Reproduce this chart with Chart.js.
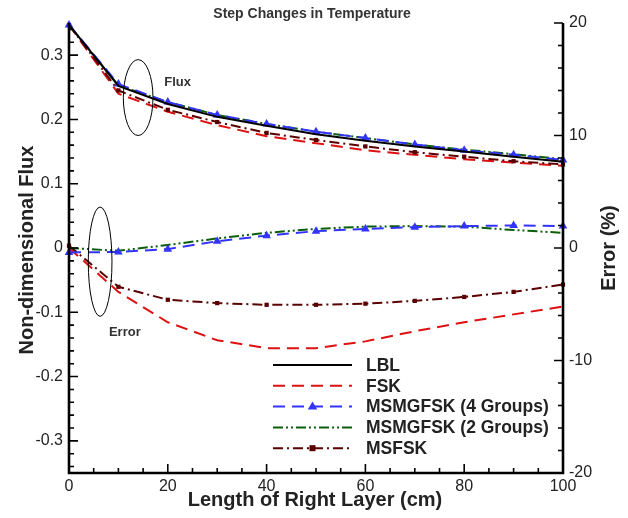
<!DOCTYPE html>
<html>
<head>
<meta charset="utf-8">
<script src="https://cdn.jsdelivr.net/npm/chart.js@4.4.1/dist/chart.umd.min.js"></script>
<style>
  html, body { margin: 0; padding: 0; background: #fff; }
  #wrap { width: 628px; height: 518px; position: relative; }
</style>
</head>
<body>
<div id="wrap"><canvas id="c" width="628" height="518"></canvas></div>
<script>
// ---------- data ----------
const lengths = [0, 10, 20, 30, 40, 50, 60, 70, 80, 90, 100];

const fluxLBL     = [0.347, 0.252, 0.224, 0.204, 0.190, 0.177, 0.167, 0.158, 0.150, 0.142, 0.134];
const fluxFSK     = [0.347, 0.240, 0.212, 0.191, 0.174, 0.163, 0.152, 0.145, 0.138, 0.133, 0.128];
const fluxMSMG4   = [0.347, 0.255, 0.227, 0.207, 0.193, 0.181, 0.171, 0.161, 0.152, 0.145, 0.137];
const fluxMSMG2   = [0.347, 0.253, 0.227, 0.207, 0.193, 0.181, 0.171, 0.161, 0.153, 0.146, 0.138];
const fluxMSFSK   = [0.347, 0.245, 0.215, 0.196, 0.179, 0.168, 0.158, 0.149, 0.142, 0.135, 0.130];

const errFSK      = [0.0, -3.9, -6.6, -8.2, -8.9, -8.9, -8.3, -7.4, -6.6, -5.9, -5.2];
const errMSMG4    = [-0.4, -0.35, -0.1, 0.6, 1.1, 1.5, 1.7, 1.85, 1.95, 2.0, 1.95];
const errMSMG2    = [0.0, -0.25, 0.27, 0.85, 1.35, 1.7, 1.9, 1.95, 1.9, 1.6, 1.35];
const errMSFSK    = [0.2, -3.45, -4.6, -4.9, -5.05, -5.05, -4.95, -4.7, -4.35, -3.9, -3.25];

const seriesNames = ["LBL", "FSK", "MSMGFSK (4 Groups)", "MSMGFSK (2 Groups)", "MSFSK"];

const xTicks     = [0, 20, 40, 60, 80, 100];
const fluxTicks  = [-0.3, -0.2, -0.1, 0, 0.1, 0.2, 0.3];
const errorTicks = [-20, -10, 0, 10, 20];

const chartTitle = "Step Changes in Temperature";
const xTitle = "Length of Right Layer (cm)";
const yTitle = "Non-dimensional Flux";
const y2Title = "Error (%)";

// ---------- styles ----------
const FONT = '"Liberation Sans", Arial, Helvetica, sans-serif';
const styles = [
  { color: "#000000", dash: [],                  point: false,      radius: 0 },
  { color: "#dd1111", dash: [12, 7],             point: false,      radius: 0 },
  { color: "#3333ff", dash: [12, 7],             point: "triangle", radius: 5 },
  { color: "#0b5f0b", dash: [10, 3, 2, 3, 2, 3], point: false,      radius: 0 },
  { color: "#5a0000", dash: [10, 4, 2, 4],       point: "rect",     radius: 3 }
];

const pts = arr => lengths.map((x, i) => ({ x: x, y: arr[i] }));

function ds(label, arr, si, axis) {
  const s = styles[si];
  return {
    label: label,
    data: pts(arr),
    yAxisID: axis,
    borderColor: s.color,
    backgroundColor: s.color,
    borderWidth: 2,
    borderDash: s.dash,
    pointStyle: s.point || "circle",
    pointRadius: s.radius,
    pointHoverRadius: s.radius,
    pointBorderWidth: 0,
    tension: 0,
    clip: false,
    fill: false
  };
}

const datasets = [
  ds(seriesNames[0], fluxLBL, 0, "y"),
  ds(seriesNames[2], fluxMSMG4, 2, "y"),
  ds(seriesNames[3], fluxMSMG2, 3, "y"),
  ds(seriesNames[4], fluxMSFSK, 4, "y"),
  ds(seriesNames[1], fluxFSK, 1, "y"),
  ds(seriesNames[2], errMSMG4, 2, "y2"),
  ds(seriesNames[3], errMSMG2, 3, "y2"),
  ds(seriesNames[4], errMSFSK, 4, "y2"),
  ds(seriesNames[1], errFSK, 1, "y2")
];

function drawMarker(ctx, kind, x, y, r, color) {
  ctx.save();
  ctx.fillStyle = color;
  ctx.setLineDash([]);
  if (kind === "triangle") {
    ctx.beginPath();
    ctx.moveTo(x, y - r);
    ctx.lineTo(x + r * 0.95, y + r * 0.6);
    ctx.lineTo(x - r * 0.95, y + r * 0.6);
    ctx.closePath();
    ctx.fill();
  } else if (kind === "rect") {
    ctx.fillRect(x - r, y - r, 2 * r, 2 * r);
  }
  ctx.restore();
}

const decor = {
  id: "decor",
  afterDraw(chart) {
    const ctx = chart.ctx;
    const xs = chart.scales.x, ys = chart.scales.y, y2 = chart.scales.y2;
    const { left, right, top, bottom } = chart.chartArea;
    ctx.save();
    ctx.setLineDash([]);
    ctx.strokeStyle = "#000";
    // axis lines
    ctx.lineWidth = 2.6;
    ctx.beginPath();
    ctx.moveTo(left, top); ctx.lineTo(left, bottom); ctx.lineTo(right, bottom); ctx.lineTo(right, top);
    ctx.stroke();

    // ticks (inward)
    const major = 9, minor = 5;
    ctx.lineWidth = 1.6;
    ctx.beginPath();
    for (let v = xs.min; v <= xs.max + 1e-9; v += 5) {
      const px = xs.getPixelForValue(v);
      const len = (Math.round(v) % 20 === 0) ? major : minor;
      ctx.moveTo(px, bottom); ctx.lineTo(px, bottom - len);
    }
    for (let k = Math.ceil(ys.min / 0.02 - 1e-6); k * 0.02 <= ys.max + 1e-9; k++) {
      const v = k * 0.02;
      const py = ys.getPixelForValue(v);
      const len = (k % 5 === 0) ? major : minor;
      ctx.moveTo(left, py); ctx.lineTo(left + len, py);
    }
    for (let v = y2.min; v <= y2.max + 1e-9; v += 2) {
      const py = y2.getPixelForValue(v);
      const len = (Math.round(v) % 10 === 0) ? major : minor;
      ctx.moveTo(right, py); ctx.lineTo(right - len, py);
    }
    ctx.stroke();

    // annotation ellipses
    ctx.lineWidth = 1;
    ctx.beginPath();
    const fx = xs.getPixelForValue(14), fy = ys.getPixelForValue(0.234);
    ctx.ellipse(fx, fy, xs.getPixelForValue(3) - xs.getPixelForValue(0),
                ys.getPixelForValue(0) - ys.getPixelForValue(0.059), 0, 0, Math.PI * 2);
    ctx.stroke();
    ctx.beginPath();
    const ex = xs.getPixelForValue(6.3), ey = ys.getPixelForValue(-0.0213);
    ctx.ellipse(ex, ey, xs.getPixelForValue(2.4) - xs.getPixelForValue(0),
                ys.getPixelForValue(0) - ys.getPixelForValue(0.085), 0, 0, Math.PI * 2);
    ctx.stroke();

    ctx.fillStyle = "#333";
    ctx.textAlign = "center";
    ctx.textBaseline = "middle";
    ctx.font = "bold 13px " + FONT;
    ctx.fillText("Flux", xs.getPixelForValue(22), ys.getPixelForValue(0.257));
    ctx.fillText("Error", xs.getPixelForValue(11.3), ys.getPixelForValue(-0.131));

    // titles
    ctx.font = "bold 14px " + FONT;
    ctx.fillText(chartTitle, 312, 14);
    ctx.fillStyle = "#222";
    ctx.font = "bold 20px " + FONT;
    ctx.fillText(xTitle, 315, 500);
    ctx.save();
    ctx.translate(27, 250);
    ctx.rotate(-Math.PI / 2);
    ctx.fillText(yTitle, 0, 0);
    ctx.restore();
    ctx.save();
    ctx.translate(609, 248);
    ctx.rotate(-Math.PI / 2);
    ctx.fillText(y2Title, 0, 0);
    ctx.restore();

    // legend
    const lx0 = 273, lx1 = 352, tx = 366, ly0 = 365, dy = 20.8;
    const order = [0, 1, 2, 3, 4];
    ctx.font = "bold 17.5px " + FONT;
    ctx.textAlign = "left";
    order.forEach((si, i) => {
      const s = styles[si];
      const yy = ly0 + i * dy;
      ctx.strokeStyle = s.color;
      ctx.lineWidth = 2;
      ctx.setLineDash(s.dash);
      ctx.beginPath();
      ctx.moveTo(lx0, yy); ctx.lineTo(lx1, yy);
      ctx.stroke();
      ctx.setLineDash([]);
      if (s.point) drawMarker(ctx, s.point, (lx0 + lx1) / 2, yy, s.radius, s.color);
      ctx.fillStyle = "#222";
      ctx.fillText(seriesNames[si], tx, yy + 1);
    });
    ctx.restore();
  }
};

const tickFont = { family: FONT, size: 16 };

new Chart(document.getElementById("c"), {
  type: "line",
  data: { datasets: datasets },
  options: {
    responsive: false,
    animation: false,
    events: [],
    layout: { padding: { top: 23, left: 0, right: 0, bottom: 0 } },
    plugins: { legend: { display: false }, title: { display: false }, tooltip: { enabled: false } },
    scales: {
      x: {
        type: "linear", min: 0, max: 100,
        grid: { display: false, drawTicks: false }, border: { display: false },
        afterBuildTicks: s => { s.ticks = xTicks.map(v => ({ value: v })); },
        afterFit: s => { s.height = 45; },
        ticks: { color: "#222", font: tickFont, padding: 4, maxRotation: 0, callback: v => String(v) }
      },
      y: {
        type: "linear", position: "left", min: -0.35, max: 0.35,
        grid: { display: false, drawTicks: false }, border: { display: false },
        afterBuildTicks: s => { s.ticks = fluxTicks.map(v => ({ value: v })); },
        afterFit: s => { s.width = 69; },
        ticks: { color: "#222", font: tickFont, padding: 6,
                 callback: v => (Math.abs(v) < 1e-9 ? "0" : Number(v).toFixed(1)) }
      },
      y2: {
        type: "linear", position: "right", min: -20, max: 20,
        grid: { display: false, drawTicks: false }, border: { display: false },
        afterBuildTicks: s => { s.ticks = errorTicks.map(v => ({ value: v })); },
        afterFit: s => { s.width = 65; },
        ticks: { color: "#222", font: tickFont, padding: 6, callback: v => String(v) }
      }
    }
  },
  plugins: [decor]
});
</script>
</body>
</html>
